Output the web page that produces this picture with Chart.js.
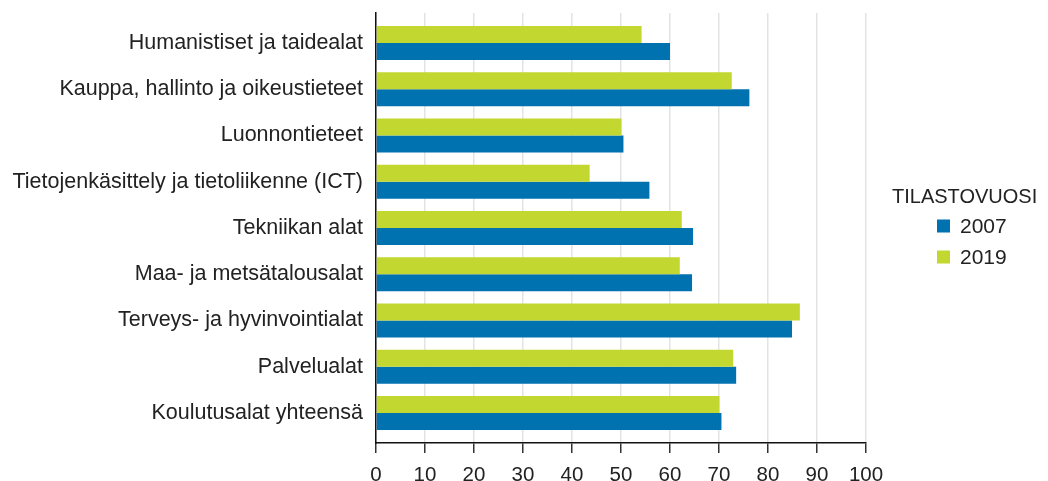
<!DOCTYPE html>
<html>
<head>
<meta charset="utf-8">
<script src="https://cdn.jsdelivr.net/npm/chart.js@4"></script>
<style>
  html, body { margin: 0; padding: 0; background: #fff; }
  #wrap { width: 1048px; height: 481px; }
</style>
</head>
<body>
<div id="wrap"><canvas id="chartAlat"></canvas></div>
<script>
// Koulutusalat
const alat = [
    'Humanistiset ja taidealat',
    'Kauppa, hallinto ja oikeustieteet',
    'Luonnontieteet',
    'Tietojenkäsittely ja tietoliikenne (ICT)',
    'Tekniikan alat',
    'Maa- ja metsätalousalat',
    'Terveys- ja hyvinvointialat',
    'Palvelualat',
    'Koulutusalat yhteensä'
];
const arvot2019 = [54.2, 72.6, 50.1, 43.6, 62.4, 62.0, 86.5, 72.9, 70.1];
const arvot2007 = [60.0, 76.2, 50.5, 55.8, 64.7, 64.5, 84.9, 73.5, 70.5];
const xTicks = [0, 10, 20, 30, 40, 50, 60, 70, 80, 90, 100];

const FONT = 'Liberation Sans, Arial, sans-serif';

// Oma selite oikealle (2007 ensin, kuten kuvassa)
const seliteLaajennus = {
    id: 'selite',
    afterDraw(chart) {
        const ctx = chart.ctx;
        ctx.save();
        ctx.fillStyle = '#222';
        ctx.textBaseline = 'middle';
        ctx.textAlign = 'left';
        ctx.font = '20px ' + FONT;
        ctx.fillText('TILASTOVUOSI', 892, 197);
        ctx.font = '21px ' + FONT;
        const sets = chart.data.datasets.slice().reverse();
        sets.forEach((ds, i) => {
            const y = 226 + i * 31;
            ctx.fillStyle = ds.backgroundColor;
            ctx.fillRect(937, y - 6.5, 13, 13);
            ctx.fillStyle = '#222';
            ctx.fillText(ds.label, 960, y + 1);
        });
        ctx.restore();
    }
};

new Chart(document.getElementById('chartAlat'), {
    type: 'bar',
    data: {
        labels: alat,
        datasets: [
            { label: '2019', data: arvot2019, backgroundColor: '#c2d72f' },
            { label: '2007', data: arvot2007, backgroundColor: '#0072b0' }
        ]
    },
    options: {
        indexAxis: 'y',
        responsive: true,
        maintainAspectRatio: false,
        animation: false,
        layout: { padding: { top: 13, right: 182, bottom: 0, left: 0 } },
        datasets: { bar: { categoryPercentage: 0.735, barPercentage: 1.0 } },
        plugins: {
            legend: { display: false },
            tooltip: { enabled: false }
        },
        scales: {
            x: {
                min: 0,
                max: 100,
                afterBuildTicks: s => { s.ticks = xTicks.map(v => ({ value: v })); },
                afterFit: s => { s.height = 38; },
                grid: { color: '#e3e3e3', lineWidth: 1.5, tickColor: '#333', tickLength: 10, drawTicks: true },
                border: { color: '#111', width: 1.5 },
                ticks: { color: '#222', padding: 10, font: { family: FONT, size: 20.5 } }
            },
            y: {
                // hieman tyhjää tilaa ylä- ja alareunaan kategorioiden ulkopuolelle
                afterBuildTicks: s => { s._startValue -= 0.15; s._valueRange += 0.3; },
                afterFit: s => { s.width = 376; s.paddingTop = 0; s.paddingBottom = 0; },
                grid: { display: false, drawTicks: false },
                border: { color: '#111', width: 1.5 },
                ticks: { color: '#222', padding: 13, font: { family: FONT, size: 21.5 } }
            }
        }
    },
    plugins: [seliteLaajennus]
});
</script>
</body>
</html>
